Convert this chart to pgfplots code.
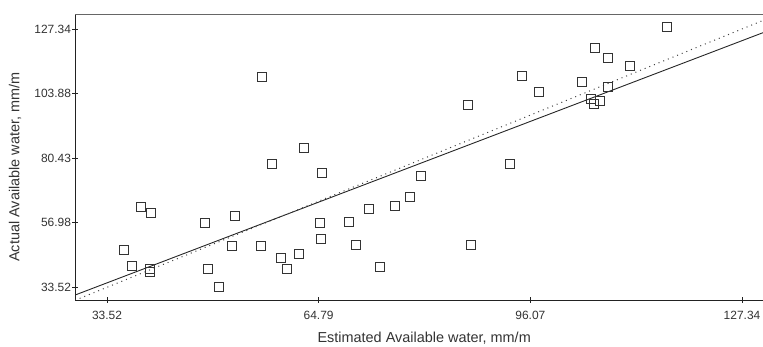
\documentclass[border=0pt]{standalone}
\usepackage{pgfplots}
\pgfplotsset{compat=1.18}
\usepackage{fontspec}
\setmainfont{Liberation Sans}
\definecolor{txt}{HTML}{333333}
\definecolor{axl}{HTML}{222222}
\definecolor{topl}{HTML}{666666}
\definecolor{mk}{HTML}{333333}
\begin{document}
\begin{tikzpicture}
\path[use as bounding box] (0,0) rectangle (763bp,347bp);
\begin{axis}[
  at={(75bp,47bp)}, anchor=south west,
  scale only axis, width=688bp, height=285.3bp,
  xmin=28.79, xmax=130.44, ymin=28.91, ymax=132.53,
  axis x line*=bottom, axis y line*=left,
  axis line style={color=axl, line width=0.9bp},
  xtick={33.52,64.79,96.07,127.34},
  xticklabels={33.52,64.79,96.07,127.34},
  ytick={33.52,56.98,80.43,103.88,127.34},
  yticklabels={33.52,56.98,80.43,103.88,127.34},
  minor x tick num=2, minor y tick num=2,
  tick align=center, major tick length=6bp, minor tick length=6bp,
  tick style={color=axl, line width=0.8bp},
  ticklabel style={font=\fontsize{12}{14}\selectfont, text=txt},
  xticklabel style={yshift=-5bp},
  yticklabel style={xshift=2.5bp},
  xlabel={Estimated Available water, mm/m},
  ylabel={Actual Available water, mm/m},
  label style={font=\fontsize{14.5}{17}\selectfont, text=txt},
  xlabel style={at={(axis description cs:0.5075,-0.133)}, anchor=center},
  ylabel style={at={(axis description cs:-0.0872,0.466)}, anchor=center},
  clip=true,
]
\addplot[only marks, mark=square, mark size=4.5bp, mark options={draw=mk, line width=0.9bp, fill=none}] coordinates {
(36.08,46.96) (37.26,41.25) (38.59,62.57) (39.98,60.50) (39.87,40.16) (39.87,39.18)
(47.96,56.87) (48.44,40.05) (50.07,33.73) (52.03,48.52) (52.48,59.41) (56.38,110.01)
(56.32,48.52) (57.90,78.30) (59.23,44.05) (60.07,40.05) (61.93,45.72) (62.58,84.22)
(64.99,56.98) (65.14,50.95) (65.33,75.03) (69.23,57.34) (70.36,48.99) (72.28,61.96)
(73.90,40.89) (76.03,63.05) (78.29,66.21) (79.91,73.87) (86.90,99.62) (87.26,48.88)
(93.11,78.30) (94.88,110.38) (97.35,104.46) (103.75,107.98) (104.99,102.02) (105.43,100.10)
(106.41,101.30) (105.62,120.44) (107.54,116.92) (107.50,106.38) (110.80,114.01) (116.26,127.96)
};
\addplot[color=black!85, line width=0.9bp] coordinates {(28.79,30.70) (130.44,126.00)};
\addplot[color=black!75, line width=1bp, dash pattern=on 1bp off 4bp] coordinates {(28.79,28.79) (130.44,130.44)};
\draw[topl, line width=1.4bp] (rel axis cs:0,1) -- (rel axis cs:1,1);
\end{axis}
\end{tikzpicture}
\end{document}
